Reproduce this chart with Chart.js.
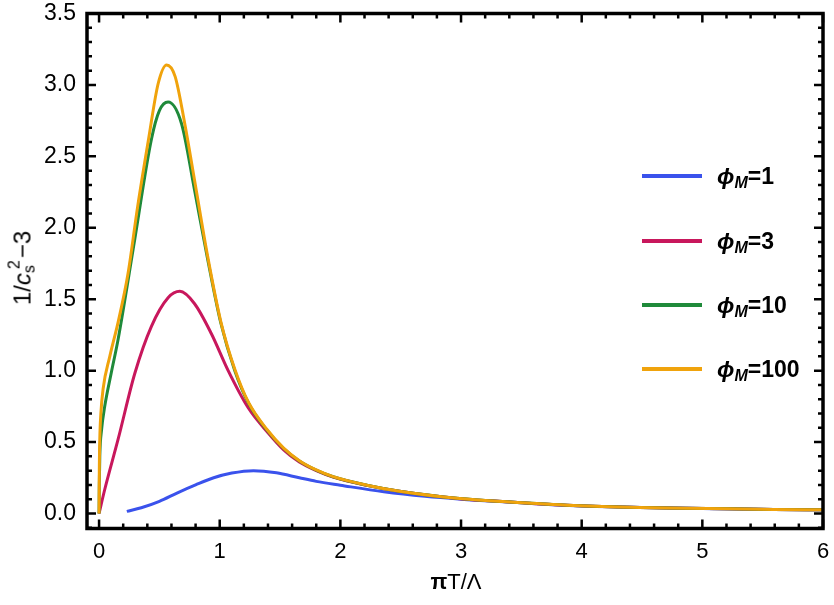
<!DOCTYPE html>
<html>
<head>
<meta charset="utf-8">
<script src="https://cdn.jsdelivr.net/npm/chart.js@4"></script>
<style>
  html, body { margin: 0; padding: 0; background: #fff; }
  #wrap { position: relative; width: 834px; height: 605px; font-family: "Liberation Sans", Arial, sans-serif; }
  #c { position: absolute; left: 0; top: 0; }
  .lab { position: absolute; color: #000; white-space: nowrap; }
  #xt { left: 456px; top: 582px; font-size: 22px; transform: translate(-50%, -50%); }
  #yt { left: 22px; top: 268px; font-size: 24px; transform: translate(-50%, -50%) rotate(-90deg); }
  #yt sub { font-size: 16px; vertical-align: -4px; }
  #yt sup { font-size: 16px; vertical-align: 11px; margin-left: -4px; margin-right: 2px; }
  .leg { position: absolute; left: 717px; font-size: 23px; font-weight: bold; transform: translateY(-50%); }
  .leg sub { font-size: 16px; vertical-align: -4px; font-style: italic; }
  .swatch { position: absolute; left: 642px; width: 60px; height: 4px; transform: translateY(-50%); }
</style>
</head>
<body>
<div id="wrap">
  <canvas id="c" width="834" height="605"></canvas>
  <div class="lab" id="xt"><b>π</b>T/Λ</div>
  <div class="lab" id="yt">1/<i>c</i><sub>s</sub><sup>2</sup>−3</div>
</div>
<script>
// curves, x = πT/Λ, y = 1/c_s^2 - 3
const phi1X = [0.23, 0.35, 0.50, 0.65, 0.80, 0.95, 1.10, 1.28, 1.47, 1.66, 1.80, 2.0, 2.36, 2.7, 3.0, 3.4, 3.9, 4.5, 5.0, 5.6, 6.0];
const phi1Y = [0.015, 0.04, 0.085, 0.145, 0.20, 0.25, 0.283, 0.30, 0.285, 0.25, 0.225, 0.198, 0.152, 0.12, 0.10, 0.08, 0.056, 0.042, 0.035, 0.028, 0.026];

const phi3X = [0, 0.047, 0.158, 0.296, 0.434, 0.572, 0.67, 0.79, 0.93, 1.07, 1.236, 1.40, 1.53, 1.66, 1.80, 1.94, 2.22, 2.49, 2.99, 3.38, 3.93, 4.48, 5.04, 5.59, 6.0];
const phi3Y = [0, 0.168, 0.52, 0.98, 1.31, 1.51, 1.555, 1.47, 1.26, 1.0, 0.74, 0.565, 0.445, 0.36, 0.30, 0.255, 0.197, 0.155, 0.104, 0.082, 0.056, 0.042, 0.035, 0.028, 0.026];

const phi10X = [0, 0.002, 0.006, 0.02, 0.047, 0.10, 0.158, 0.296, 0.434, 0.50, 0.572, 0.683, 0.79, 0.90, 1.01, 1.125, 1.24, 1.39, 1.53, 1.66, 1.80, 1.94, 2.22, 2.49, 2.99, 3.38, 3.93, 4.48, 5.04, 5.59, 6.0];
const phi10Y = [0, 0.20, 0.40, 0.58, 0.75, 0.98, 1.22, 1.92, 2.62, 2.82, 2.88, 2.73, 2.27, 1.78, 1.33, 1.0, 0.77, 0.585, 0.455, 0.368, 0.304, 0.257, 0.198, 0.156, 0.105, 0.082, 0.056, 0.042, 0.035, 0.028, 0.026];

const phi100X = [0, 0.002, 0.006, 0.015, 0.033, 0.089, 0.158, 0.24, 0.32, 0.41, 0.49, 0.56, 0.63, 0.71, 0.79, 0.90, 1.01, 1.125, 1.24, 1.39, 1.53, 1.66, 1.80, 1.94, 2.22, 2.49, 2.99, 3.38, 3.93, 4.48, 5.04, 5.59, 6.0];
const phi100Y = [0, 0.30, 0.52, 0.70, 0.87, 1.10, 1.34, 1.68, 2.15, 2.62, 3.01, 3.14, 3.06, 2.73, 2.34, 1.80, 1.34, 1.01, 0.775, 0.59, 0.458, 0.37, 0.305, 0.258, 0.198, 0.156, 0.105, 0.082, 0.056, 0.042, 0.035, 0.028, 0.026];

const legendLabels = ['1', '3', '10', '100'];
const colors = ['#3a52ec', '#c8175c', '#1f8a3a', '#f0a30c'];
const xTicks = [0, 1, 2, 3, 4, 5, 6];
const yTicks = [0.0, 0.5, 1.0, 1.5, 2.0, 2.5, 3.0, 3.5];

const toPts = (xs, ys) => xs.map((x, i) => ({ x: x, y: ys[i] }));
const series = [toPts(phi1X, phi1Y), toPts(phi3X, phi3Y), toPts(phi10X, phi10Y), toPts(phi100X, phi100Y)];

// legend as html next to the frame
const legY = [177, 242, 306, 370];
const wrap = document.getElementById('wrap');
legendLabels.forEach((l, i) => {
  const s = document.createElement('div');
  s.className = 'swatch';
  s.style.top = (legY[i] - 1) + 'px';
  s.style.background = colors[i];
  wrap.appendChild(s);
  const d = document.createElement('div');
  d.className = 'lab leg';
  d.style.top = legY[i] + 'px';
  d.innerHTML = '<i>ϕ</i><sub>M</sub>=' + l;
  wrap.appendChild(d);
});

// frame with inward ticks on all four sides (Mathematica style)
const framePlugin = {
  id: 'frame',
  afterDraw(chart) {
    const c = chart.ctx, a = chart.chartArea;
    const xs = chart.scales.x, ys = chart.scales.y;
    c.save();
    c.strokeStyle = '#000';
    c.lineWidth = 2.5;
    for (let v = 0; v <= 30; v++) {
      const x = xs.getPixelForValue(v * 0.2);
      const len = v % 5 === 0 ? 9 : 5;
      c.beginPath();
      c.moveTo(x, a.bottom); c.lineTo(x, a.bottom - len);
      c.moveTo(x, a.top); c.lineTo(x, a.top + len);
      c.stroke();
    }
    for (let v = -1; v <= 35; v++) {
      const y = ys.getPixelForValue(v * 0.1);
      const len = v % 5 === 0 ? 9 : 5;
      c.beginPath();
      c.moveTo(a.left, y); c.lineTo(a.left + len, y);
      c.moveTo(a.right, y); c.lineTo(a.right - len, y);
      c.stroke();
    }
    c.lineWidth = 3.5;
    c.strokeRect(a.left, a.top, a.right - a.left, a.bottom - a.top);
    c.restore();
  }
};

new Chart(document.getElementById('c'), {
  type: 'scatter',
  data: {
    datasets: series.map((pts, i) => ({
      label: 'phi_M=' + legendLabels[i],
      data: pts,
      showLine: true,
      borderColor: colors[i],
      backgroundColor: colors[i],
      borderWidth: 3,
      pointRadius: 0,
      cubicInterpolationMode: 'monotone',
      order: 3 - i
    }))
  },
  options: {
    responsive: false,
    animation: false,
    devicePixelRatio: 1,
    layout: { padding: { left: 0, top: 13.5, right: 11, bottom: 0 } },
    plugins: { legend: { display: false }, tooltip: { enabled: false } },
    scales: {
      x: {
        type: 'linear', min: -0.1, max: 6,
        grid: { display: false, drawTicks: false },
        border: { display: false },
        afterBuildTicks: s => { s.ticks = xTicks.map(v => ({ value: v })); },
        afterFit: s => { s.height = 76.5; s.paddingLeft = 0; s.paddingRight = 0; },
        ticks: { color: '#000', padding: 10, font: { family: 'Liberation Sans', size: 22 }, maxRotation: 0,
                 callback: v => String(v) }
      },
      y: {
        type: 'linear', min: -0.105, max: 3.5,
        grid: { display: false, drawTicks: false },
        border: { display: false },
        afterBuildTicks: s => { s.ticks = yTicks.map(v => ({ value: v })); },
        afterFit: s => { s.width = 87; s.paddingTop = 0; s.paddingBottom = 0; },
        ticks: { color: '#000', padding: 11, font: { family: 'Liberation Sans', size: 23 },
                 callback: v => v.toFixed(1) }
      }
    }
  },
  plugins: [framePlugin]
});
</script>
</body>
</html>
